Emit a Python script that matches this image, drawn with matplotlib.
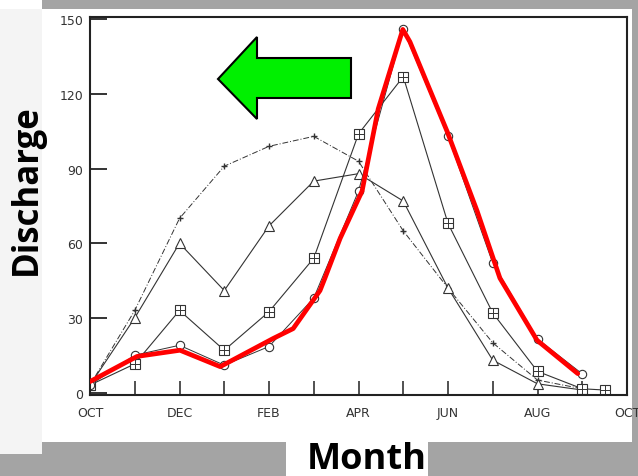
import numpy as np
import matplotlib
matplotlib.use("Agg")
import matplotlib.pyplot as plt
from matplotlib.patches import Rectangle, Polygon

# months from OCT (0) to SEP (11)
months = np.arange(12)
tick_labels = ['OCT', 'DEC', 'FEB', 'APR', 'JUN', 'AUG', 'OCT']

plus_vals = [3, 33, 70, 91, 99, 103, 93, 65, 42, 20, 5, 1.5]
tri_vals = [3, 30, 60, 41, 67, 85, 88, 77, 42, 13, 3.5, 1]
sq_months = [0, 1, 2, 3, 4, 5, 6, 7, 8, 9, 10, 11, 11.5]
sq_vals = [3, 11.5, 33, 17, 32.5, 54, 104, 127, 68, 32, 8.5, 1.5, 1]
circ_vals = [3, 15, 19, 11, 18.5, 38, 81, 146, 103, 52, 21.5, 7.5]

# hand drawn red trace
red_x = [0, 1.05, 2.01, 2.91, 4.09, 4.54, 5.14, 5.25, 5.59, 6.08, 6.44, 6.99,
         7.15, 7.98, 8.65, 9.16, 9.99, 10.9]
red_y = [4.4, 14.5, 17, 10.4, 21.7, 25.7, 41, 46, 62, 81, 114, 146,
         141, 105, 73, 46, 21, 7.6]

W, H = 638, 477
fig = plt.figure(figsize=(W / 100, H / 100), dpi=100)
fig.patch.set_facecolor('#a4a4a4')

def px_rect(x0, y0, x1, y1, color):
    fig.patches.append(Rectangle((x0 / W, 1 - y1 / H), (x1 - x0) / W, (y1 - y0) / H,
                                 transform=fig.transFigure, facecolor=color,
                                 edgecolor='none', zorder=0))

# backdrop pieces
px_rect(0, 0, 42, 455, '#f4f4f4')
px_rect(42, 10, 632, 443, 'white')
px_rect(0, 0, 42, 10, 'white')
px_rect(286, 443, 428, 477, 'white')

ax = fig.add_axes([90 / W, 1 - 396 / H, (627 - 90) / W, (396 - 18) / H])
ax.set_zorder(2)
ax.set_facecolor('white')
ln = '#333333'

ax.plot(months, plus_vals, color=ln, lw=0.7, ls=(0, (6, 2, 1, 2)),
        marker='+', ms=5, mew=1)
ax.plot(months, tri_vals, color=ln, lw=0.8, marker='^', ms=7,
        mfc='white', mec=ln, mew=0.8)
ax.plot(sq_months, sq_vals, color=ln, lw=0.8, marker='s', ms=6.5,
        mfc='white', mec=ln, mew=0.8)
ax.plot(sq_months, sq_vals, ls='none', marker='+', ms=6.5, mec=ln, mew=0.7)
ax.plot(months, circ_vals, color=ln, lw=0.7, marker='o', ms=6,
        mfc='white', mec=ln, mew=0.8)

ax.plot(red_x, red_y, color='#ff0000', lw=3.4, solid_capstyle='round',
        solid_joinstyle='round', zorder=5)

ax.set_xlim(0, 12)
ax.set_ylim(-1, 151)
ax.set_yticks(np.arange(0, 151, 30))
ax.set_xticks(np.arange(0, 13, 2))
ax.set_xticklabels(tick_labels)
ax.set_xticks(np.arange(0, 13, 1), minor=True)
ax.tick_params(axis='y', direction='in', length=12, width=1.4, labelsize=9,
               colors='#333333', pad=5)
ax.tick_params(axis='x', which='both', direction='in', length=10, width=1.2,
               labelsize=9, colors='#333333', pad=8)
for s in ax.spines.values():
    s.set_linewidth(1.5)
    s.set_color('#222222')

# green arrow
arrow_px = [(218, 80), (257, 38), (257, 59), (351, 59), (351, 99), (257, 99), (257, 120)]
fig.patches.append(Polygon([(x / W, 1 - y / H) for x, y in arrow_px], closed=True,
                           transform=fig.transFigure, facecolor='#00f000',
                           edgecolor='black', lw=1.5, zorder=10))

fig.text(27 / W, 1 - 190 / H, 'Discharge', rotation=90, ha='center', va='center',
         fontsize=25, fontweight='bold', family=['Open Sans', 'DejaVu Sans'])
fig.text(367 / W, 1 - 460 / H, 'Month', ha='center', va='center',
         fontsize=26, fontweight='bold', family=['Open Sans', 'DejaVu Sans'])

fig.savefig('out.png', dpi=100, facecolor=fig.get_facecolor())
